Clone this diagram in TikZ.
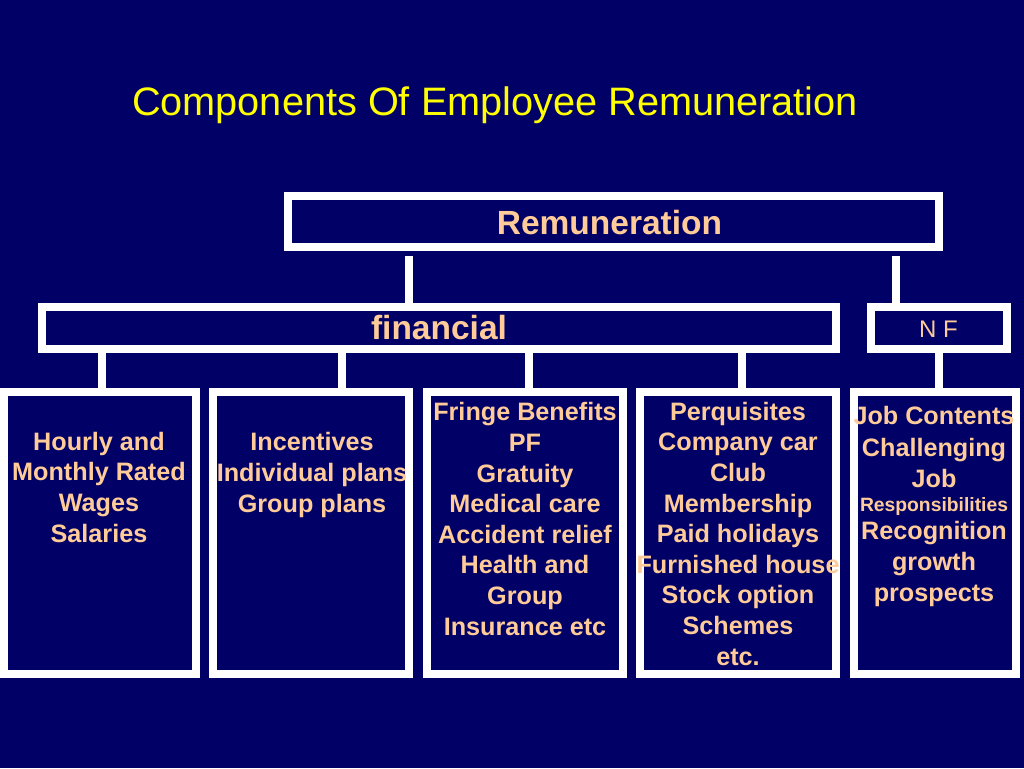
\documentclass[tikz,border=0pt]{standalone}
\usepackage{fontspec}
\setmainfont{Liberation Sans}
\definecolor{navy}{HTML}{000066}
\definecolor{peach}{HTML}{FFCC99}
\definecolor{ttl}{HTML}{FFFF00}
\begin{document}
\begin{tikzpicture}[x=1pt,y=-1pt,
  box/.style={draw=white,line width=8pt,fill=navy,rectangle,inner sep=0pt,outer sep=0pt},
  conn/.style={draw=white,line width=8pt},
  body/.style={text=peach,font=\bfseries\fontsize{25.2}{30.6}\selectfont,align=center,anchor=base,inner sep=0pt},
  head/.style={text=peach,font=\bfseries\fontsize{33.5}{40}\selectfont,anchor=base,inner sep=0pt}]
\useasboundingbox (0,0) rectangle (1024,768);
\fill[navy] (0,0) rectangle (1024,768);
% title
\node[text=ttl,font=\fontsize{39.7}{47}\selectfont,anchor=base,inner sep=0pt] (title) at (495,115) {Components Of Employee Remuneration};
% boxes
\node[box,minimum width=650.5pt,minimum height=50.7pt] (rem) at (613.25,221.3) {};
\node[box,minimum width=794pt,minimum height=42pt] (fin) at (439,328) {};
\node[box,minimum width=136pt,minimum height=42pt] (nf) at (938.5,328) {};
\node[box,minimum width=192pt,minimum height=282pt] (b1) at (100,533) {};
\node[box,minimum width=196pt,minimum height=282pt] (b2) at (311,533) {};
\node[box,minimum width=196pt,minimum height=282pt] (b3) at (525,533) {};
\node[box,minimum width=196pt,minimum height=282pt] (b4) at (738,533) {};
\node[box,minimum width=162pt,minimum height=282pt] (b5) at (934.5,533) {};
% connectors
\coordinate (r1) at (409,256);
\coordinate (r2) at (896,256);
\coordinate (x1) at (102,0);
\coordinate (x2) at (341.5,0);
\coordinate (x3) at (529,0);
\coordinate (x4) at (742,0);
\draw[conn] (r1) -- (r1 |- fin.north);
\draw[conn] (r2) -- (r2 |- nf.north);
\draw[conn] (fin.south -| x1) -- (b1.north -| x1);
\draw[conn] (fin.south -| x2) -- (b2.north -| x2);
\draw[conn] (fin.south -| x3) -- (b3.north -| x3);
\draw[conn] (fin.south -| x4) -- (b4.north -| x4);
\draw[conn] (nf.south) -- (nf.south |- b5.north);
% texts (anchor base = baseline of the last line)
\node[head] (remt) at (609.5,234) {Remuneration};
\node[head] (fint) at (439,339) {financial};
\node[text=peach,font=\fontsize{24}{28}\selectfont,anchor=base,inner sep=0pt] (nft) at (938.5,337) {N F};
\node[body] (t1) at (99,542) {Hourly and\\Monthly Rated\\Wages\\Salaries};
\node[body] (t2) at (312,512) {Incentives\\Individual plans\\Group plans};
\node[body] (t3) at (525,635) {Fringe Benefits\\PF\\Gratuity\\Medical care\\Accident relief\\Health and\\Group\\Insurance etc};
\node[body] (t4) at (738,665) {Perquisites\\Company car\\Club\\Membership\\Paid holidays\\Furnished house\\Stock option\\Schemes\\etc.};
\node[body] (t5) at (934,601) {Job Contents\\[1pt]Challenging\\Job\\[-6.5pt]{\fontsize{19.3}{23}\selectfont Responsibilities}\\[-2pt]Recognition\\growth\\prospects};
\end{tikzpicture}
\end{document}
